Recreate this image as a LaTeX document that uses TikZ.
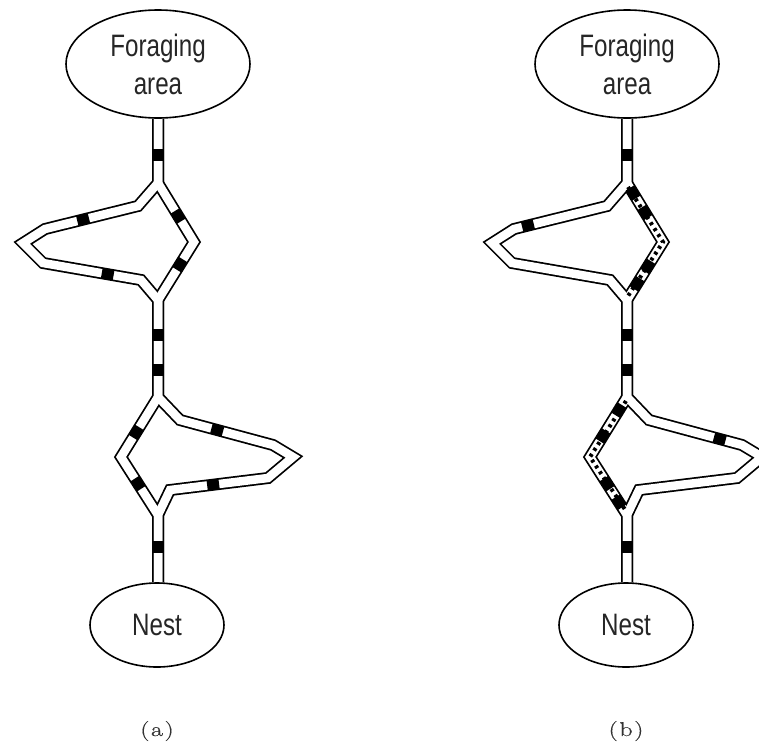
\documentclass[tikz,border=0pt]{standalone}
\usepackage{fontspec}
\newfontfamily\trailfont[FakeStretch=0.78]{Liberation Sans}
\newfontfamily\capfont[LetterSpace=8,FakeStretch=1.3,FakeBold=0.6]{Latin Modern Roman}
\usetikzlibrary{shapes.geometric}
\pgfdeclarelayer{bg}
\pgfsetlayers{bg,main}
\newcommand\trailpanel{%
  \coordinate (u) at (158,183);
  \coordinate (l1) at (138,206);
  \coordinate (l2) at (45,229);
  \coordinate (lt) at (23,243);
  \coordinate (l3) at (43,263);
  \coordinate (l4) at (141,280);
  \coordinate (rt) at (194,242);
  \coordinate (d) at (158,300);
  \coordinate (u2) at (158,397);
  \coordinate (mt) at (121,457);
  \coordinate (d2) at (158,515);
  \coordinate (r1) at (180,420);
  \coordinate (r2) at (273,445);
  \coordinate (rt2) at (293,457);
  \coordinate (r3) at (268,478);
  \coordinate (r4) at (170,490);
  \node[area,minimum width=184pt,minimum height=108pt] (fa) at (158,64) {Foraging\\area};
  \node[area,minimum width=134pt,minimum height=84pt] (nest) at (157,625) {Nest};
  \begin{pgfonlayer}{bg}
    \foreach \s in {trailout,trailin}{
      \draw[\s] (fa.south) -- (u) -- (l1) -- (l2) -- (lt) -- (l3) -- (l4) -- (d) -- (u2) -- (mt) -- (d2) -- (d2 |- nest.north);
      \draw[\s] (fa.south) -- (u) -- (rt) -- (d) -- (u2) -- (r1) -- (r2) -- (rt2) -- (r3) -- (r4) -- (d2) -- (d2 |- nest.north);
    }
  \end{pgfonlayer}
}
\begin{document}
\begin{tikzpicture}[x=1pt,y=-1pt,
  area/.style={ellipse,draw,line width=1.6pt,fill=white,inner sep=0pt,
    font=\trailfont\fontsize{31}{38}\selectfont,align=center,text=black!85},
  trailout/.style={line width=12pt,black,line join=miter},
  trailin/.style={line width=8.5pt,white,line join=miter},
  ant/.style={rectangle,fill=black,minimum width=12pt,minimum height=10pt,
    inner sep=0pt,sloped,allow upside down},
  busy/.style={line width=4pt,black,dash pattern=on 3pt off 4pt},
  caplabel/.style={font=\capfont\fontsize{20}{20}\selectfont,text=black!80}
]
\useasboundingbox (0,0) rectangle (759,744);
% panel (a)
\begin{scope}[name prefix=a-]
  \trailpanel
  \path (fa.south) -- (u) node[ant,pos=0.57] (k1) {};
  \path (l1) -- (l2) node[ant,pos=0.59] (k2) {};
  \path (u) -- (rt) node[ant,pos=0.56] (k3) {};
  \path (rt) -- (d) node[ant,pos=0.39] (k4) {};
  \path (l3) -- (l4) node[ant,pos=0.66] (k5) {};
  \path (d) -- (u2) node[ant,pos=0.36] (k6) {} node[ant,pos=0.72] (k7) {};
  \path (u2) -- (mt) node[ant,pos=0.59] (k8) {};
  \path (mt) -- (d2) node[ant,pos=0.46] (k9) {};
  \path (r1) -- (r2) node[ant,pos=0.4] (k10) {};
  \path (r3) -- (r4) node[ant,pos=0.56] (k11) {};
  \path (d2) -- (d2 |- nest.north) node[ant,pos=0.47] (k12) {};
\end{scope}
% panel (b)
\begin{scope}[name prefix=b-,xshift=469pt]
  \trailpanel
  \draw[busy] ([shift={(1,4)}]u) -- (rt) -- ([shift={(1,-4)}]d);
  \draw[busy] ([shift={(-1,4)}]u2) -- (mt) -- ([shift={(-1,-4)}]d2);
  \path (fa.south) -- (u) node[ant,pos=0.57] (k1) {};
  \path (l1) -- (l2) node[ant,pos=0.85] (k2) {};
  \path (u) -- (rt) node[ant,pos=0.17] (k3) {} node[ant,pos=0.5] (k4) {};
  \path (rt) -- (d) node[ant,pos=0.42] (k5) {} node[ant,pos=0.72] (k6) {};
  \path (d) -- (u2) node[ant,pos=0.36] (k7) {} node[ant,pos=0.72] (k8) {};
  \path (u2) -- (mt) node[ant,pos=0.22] (k9) {} node[ant,pos=0.65] (k10) {};
  \path (mt) -- (d2) node[ant,pos=0.46] (k11) {} node[ant,pos=0.78] (k12) {};
  \path (r1) -- (r2) node[ant,pos=0.76] (k13) {};
  \path (d2) -- (d2 |- nest.north) node[ant,pos=0.47] (k14) {};
\end{scope}
\node[caplabel] (capa) at (157,731) {(a)};
\node[caplabel] (capb) at (626,731) {(b)};
\end{tikzpicture}
\end{document}
